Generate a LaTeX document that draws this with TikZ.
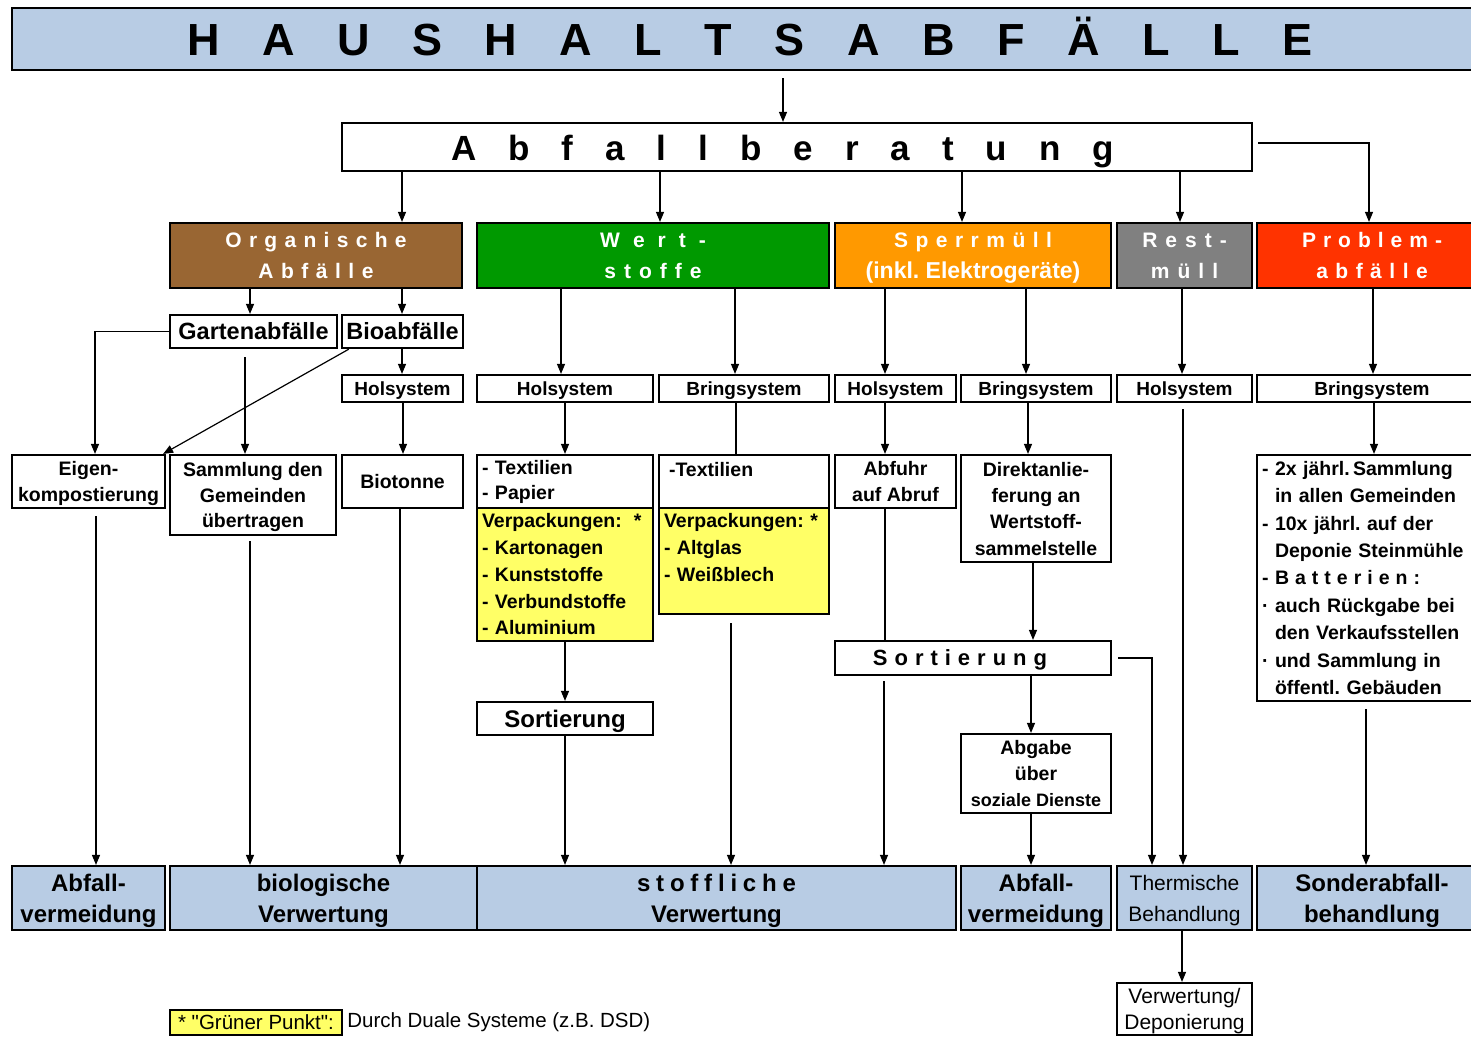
\documentclass[tikz,border=0pt]{standalone}
\usepackage{fontspec}
\setmainfont{Liberation Sans}
\newfontfamily\qfont{Liberation Sans}
\usetikzlibrary{arrows.meta,calc}
\definecolor{hblue}{HTML}{B8CCE4}
\definecolor{hyel}{HTML}{FFFF66}
\definecolor{hbrown}{HTML}{996633}
\definecolor{hgreen}{HTML}{009900}
\definecolor{horange}{HTML}{FF9900}
\definecolor{hgray}{HTML}{808080}
\definecolor{hred}{HTML}{FF3300}
\makeatletter
\newcommand\spc[2]{\def\spc@g{#1}\spc@first#2\spc@stop}
\def\spc@first#1{#1\spc@loop}
\def\spc@loop#1{\ifx\spc@stop#1\else\hspace{\spc@g}#1\expandafter\spc@loop\fi}
\def\spc@stop{spc@stop@marker}
\makeatother
\newcommand\hd[1]{\makebox[13pt][l]{#1}}
\newcommand\sq{{\qfont"}}
\frenchspacing
\begin{document}
\begin{tikzpicture}[x=1pt,y=-1pt,
  box/.style={draw, line width=2.2pt, inner sep=0pt, align=center},
  cat/.style={box, text=white, minimum height=65pt, font=\fontsize{21}{31}\selectfont\bfseries},
  sys/.style={box, minimum height=27pt, text depth=0pt, font=\fontsize{19}{23}\selectfont\bfseries},
  body/.style={box, text depth=0pt, font=\fontsize{19.5}{25.5}\selectfont\bfseries},
  lbody/.style={box, align=left, inner xsep=5pt, font=\fontsize{19.5}{26.75}\selectfont\bfseries},
  bot/.style={box, fill=hblue, minimum height=64pt, text depth=0pt, font=\fontsize{24}{31}\selectfont\bfseries},
  botr/.style={box, fill=hblue, minimum height=64pt, text depth=0pt, font=\fontsize{21}{31}\selectfont},
  arr/.style={line width=1.2pt, -{Triangle[length=10pt,width=8pt]}},
  ln/.style={line width=1.2pt}]
\useasboundingbox (0,0) rectangle (1471,1037);
\fill[white] (0,0) rectangle (1471,1037);
\foreach \v in {95,96,245,250,400,402,403,561,565,660,731,735,736,783,884,885,962,1026,1028,1031,1033,1152,1180,1182,1183,1366,1369,1373,1374}
  \coordinate (x\v) at (\v,0);

% title
\node[box, fill=hblue, minimum width=1476pt, minimum height=62pt, text height=33pt, text depth=0pt,
  font=\fontsize{45}{54}\selectfont\bfseries] (title) at (750,39) {\spc{42.5pt}{HAUSHALTSABFÄLLE}};
\node[box, fill=white, minimum width=910pt, minimum height=48pt, text height=26pt, text depth=0pt,
  font=\fontsize{35}{42}\selectfont\bfseries] (abf) at (797,147) {\spc{32pt}{Abfallberatung}\hspace{29pt}};
\coordinate (t1) at (783,78);

% categories
\node[cat, fill=hbrown, minimum width=292pt] (org) at (316,255.5) {\spc{7.3pt}{Organische}\\\spc{7.5pt}{Abfälle}};
\node[cat, fill=hgreen, minimum width=352pt] (wert) at (653,255.5) {\spc{13pt}{Wert-}\\\spc{8pt}{stoffe}};
\node[cat, fill=horange, minimum width=276pt, text depth=0pt] (sperr) at (973,255.5) {\spc{7.5pt}{Sperrmüll}\\{\fontsize{23}{31}\selectfont(inkl. Elektrogeräte)}};
\node[cat, fill=hgray, minimum width=135pt] (rest) at (1184.5,255.5) {\spc{8pt}{Rest-}\\\spc{8pt}{müll}};
\node[cat, fill=hred, minimum width=230pt] (prob) at (1372,255.5) {\spc{7pt}{Problem-}\\\spc{7.5pt}{abfälle}};

% second row
\node[box, minimum width=167pt, minimum height=33pt, font=\fontsize{23.5}{28}\selectfont\bfseries] (garten) at (253.5,331.5) {Gartenabfälle};
\node[box, minimum width=121pt, minimum height=33pt, font=\fontsize{23.5}{28}\selectfont\bfseries] (bio) at (402.5,331.5) {Bioabfälle};

% system row
\node[sys, minimum width=121pt] (hol1) at (402.5,388.5) {Holsystem};
\node[sys, minimum width=176pt] (hol2) at (565,388.5) {Holsystem};
\node[sys, minimum width=170pt] (bring2) at (744,388.5) {Bringsystem};
\node[sys, minimum width=121pt] (hol3) at (895.5,388.5) {Holsystem};
\node[sys, minimum width=150pt] (bring3) at (1036,388.5) {Bringsystem};
\node[sys, minimum width=135pt] (hol4) at (1184.5,388.5) {Holsystem};
\node[sys, minimum width=230pt] (bring5) at (1372,388.5) {Bringsystem};

% fourth row
\node[body, minimum width=153pt, minimum height=53pt] (eigen) at (88.5,481.5) {Eigen-\\kompostierung};
\node[body, minimum width=166pt, minimum height=80pt] (samml) at (253,495) {Sammlung den\\Gemeinden\\übertragen};
\node[body, minimum width=121pt, minimum height=53pt] (biot) at (402.5,481.5) {Biotonne};
\node[lbody, text width=166pt, minimum width=176pt, minimum height=53pt, font=\fontsize{19.5}{25}\selectfont\bfseries] (tp) at (565,481.5) {- Textilien\\- Papier};
\node[lbody, fill=hyel, text width=166pt, minimum width=176pt, minimum height=133pt] (vp1) at (565,574.5)
  {Verpackungen:\hspace{12pt}*\\- Kartonagen\\- Kunststoffe\\- Verbundstoffe\\- Aluminium};
\node[lbody, text width=160pt, minimum width=170pt, minimum height=53pt, font=\fontsize{19.5}{25}\selectfont\bfseries] (tx2) at (744,481.5) {\hspace{5pt}-Textilien\\\mbox{}};
\node[lbody, fill=hyel, text width=160pt, minimum width=170pt, minimum height=106pt] (vp2) at (744,561)
  {Verpackungen: *\\- Altglas\\- Weißblech\\\mbox{}};
\node[body, minimum width=121pt, minimum height=53pt] (abfuhr) at (895.5,481.5) {Abfuhr\\auf Abruf};
\node[body, minimum width=150pt, minimum height=107pt, font=\fontsize{19.5}{26.3}\selectfont\bfseries] (direkt) at (1036,508.5) {Direktanlie-\\ferung an\\Wertstoff-\\sammelstelle};
\node[lbody, text width=220pt, minimum width=230pt, minimum height=246pt, font=\fontsize{19.5}{27.4}\selectfont\bfseries] (probbox) at (1372,578)
  {\hd{-}2x jährl.\,Sammlung\\\hd{}in allen Gemeinden\\\hd{-}10x jährl. auf der\\\hd{}Deponie Steinmühle\\\hd{-}\spc{6pt}{Batterien:}\\\hd{·}auch Rückgabe bei\\\hd{}den Verkaufsstellen\\\hd{·}und Sammlung in\\\hd{}öffentl. Gebäuden};

% sorting
\node[box, minimum width=176pt, minimum height=33pt, text depth=0pt, font=\fontsize{24}{28}\selectfont\bfseries] (sort1) at (565,718.5) {Sortierung};
\node[box, minimum width=276pt, minimum height=34pt, text depth=0pt, font=\fontsize{22}{26}\selectfont\bfseries] (sort2) at (973,658) {\spc{7pt}{Sortierung}\hspace{26pt}};
\node[body, minimum width=150pt, minimum height=79pt, font=\fontsize{19.5}{26}\selectfont\bfseries] (abgabe) at (1036,773.5) {Abgabe\\über\\{\fontsize{18}{26}\selectfont soziale Dienste}};

% bottom row
\node[bot, minimum width=153pt] (av1) at (88.5,898) {Abfall-\\vermeidung};
\node[bot, minimum width=307pt] (biov) at (323.5,898) {biologische\\Verwertung};
\node[bot, minimum width=479pt] (stoff) at (716.5,898) {\spc{5.8pt}{stoffliche}\\Verwertung};
\node[bot, minimum width=150pt] (av2) at (1036,898) {Abfall-\\vermeidung};
\node[botr, minimum width=135pt] (therm) at (1184.5,898) {Thermische\\Behandlung};
\node[bot, minimum width=230pt] (sonder) at (1372,898) {Sonderabfall-\\behandlung};
\node[box, minimum width=135pt, minimum height=52pt, text depth=0pt, font=\fontsize{21}{26}\selectfont] (verw) at (1184.5,1009) {Verwertung/\\Deponierung};

% footnote
\node[box, fill=hyel, minimum width=172pt, minimum height=25pt, font=\fontsize{20.5}{24}\selectfont] (fn) at (256,1022.5) {* \sq Grüner Punkt\sq:};
\node[anchor=west, inner sep=0pt, font=\fontsize{20.5}{24}\selectfont] (fn2) at ([xshift=4pt]fn.east) {Durch Duale Systeme (z.B. DSD)};

% connectors
\draw[arr] (t1) -- (t1 |- abf.north);
\draw[arr] (abf.south -| x402) -- (org.north -| x402);
\draw[arr] (abf.south -| x660) -- (wert.north -| x660);
\draw[arr] (abf.south -| x962) -- (sperr.north -| x962);
\draw[arr] (abf.south -| x1180) -- (rest.north -| x1180);
\draw[arr] ([shift={(5pt,4pt)}]abf.east) -| (prob.north -| x1369);
\draw[arr] (org.south -| x250) -- (garten.north -| x250);
\draw[arr] (org.south -| x402) -- (bio.north -| x402);
\draw[arr] (garten.west) -| (eigen.north -| x95);
\draw[arr, shorten <=8pt] (garten.south -| x245) -- (samml.north -| x245);
\draw[arr] ([xshift=8pt]bio.south west) -- ([xshift=-3pt]eigen.north east);
\draw[arr] (bio.south -| x402) -- (hol1.north -| x402);
\draw[arr] (hol1.south -| x403) -- (biot.north -| x403);
\draw[arr] (wert.south -| x561) -- (hol2.north -| x561);
\draw[arr] (wert.south -| x735) -- (bring2.north -| x735);
\draw[arr] (hol2.south -| x565) -- (tp.north -| x565);
\draw[ln] (bring2.south -| x736) -- (tx2.north -| x736);
\draw[arr] (vp1.south -| x565) -- (sort1.north -| x565);
\draw[arr] (sort1.south -| x565) -- (stoff.north -| x565);
\draw[arr, shorten <=8pt] (vp2.south -| x731) -- (stoff.north -| x731);
\draw[arr] (sperr.south -| x885) -- (hol3.north -| x885);
\draw[arr] (sperr.south -| x1026) -- (bring3.north -| x1026);
\draw[arr] (hol3.south -| x885) -- (abfuhr.north -| x885);
\draw[ln] (abfuhr.south -| x885) -- (sort2.north -| x885);
\draw[arr] (bring3.south -| x1028) -- (direkt.north -| x1028);
\draw[arr] (direkt.south -| x1033) -- (sort2.north -| x1033);
\draw[arr, shorten <=5pt] (sort2.south -| x884) -- (stoff.north -| x884);
\draw[arr] (sort2.south -| x1031) -- (abgabe.north -| x1031);
\draw[arr] ([xshift=6pt]sort2.east) -| (therm.north -| x1152);
\draw[arr] (abgabe.south -| x1031) -- (av2.north -| x1031);
\draw[arr] (rest.south -| x1182) -- (hol4.north -| x1182);
\draw[arr, shorten <=6pt] (hol4.south -| x1183) -- (therm.north -| x1183);
\draw[arr] (therm.south -| x1182) -- (verw.north -| x1182);
\draw[arr] (prob.south -| x1373) -- (bring5.north -| x1373);
\draw[arr] (bring5.south -| x1374) -- (probbox.north -| x1374);
\draw[arr, shorten <=7pt] (probbox.south -| x1366) -- (sonder.north -| x1366);
\draw[arr, shorten <=7pt] (eigen.south -| x96) -- (av1.north -| x96);
\draw[arr, shorten <=5pt] (samml.south -| x250) -- (biov.north -| x250);
\draw[arr] (biot.south -| x400) -- (biov.north -| x400);
\end{tikzpicture}
\end{document}
